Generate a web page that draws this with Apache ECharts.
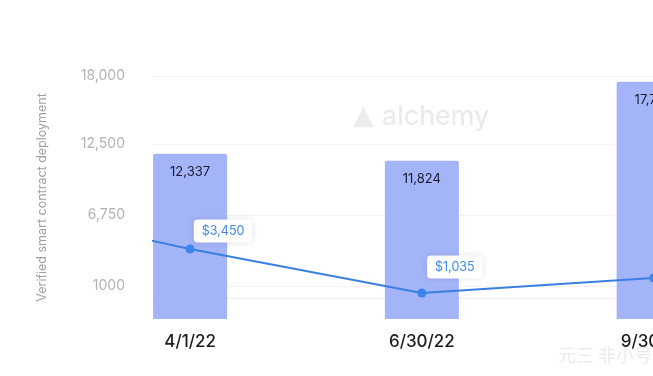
<!DOCTYPE html>
<html>
<head>
<meta charset="utf-8">
<script src="https://cdn.jsdelivr.net/npm/echarts@6/dist/echarts.min.js"></script>
<style>html,body{margin:0;padding:0;background:#fff;}#c{width:653px;height:376px;}</style>
</head>
<body>
<div id="c"></div>
<script>
// categories (the x positions are their indices; -1 is the quarter before, off the left edge)
const categories = ['4/1/22', '6/30/22', '9/30/22'];
const barPositions = [0, 1, 2];
const deployments = [12337, 11824, 17720];
const linePositions = [-1, 0, 1, 2];
const priceValues = [6200, 3450, 1035, 1860];
const yTickValues = [1000, 6750, 12500, 18000];
const yTickLabels = ['1000', '6,750', '12,500', '18,000'];

// label styling (pixel nudges per point label, not data)
const priceLabelNudge = [[33, 0], [33, 6], [33, -2], [33, 0]];

const fmt = v => Number(v).toLocaleString('en-US');

const chart = echarts.init(document.getElementById('c'), null, {renderer: 'canvas'});
chart.setOption({
  animation: false,
  backgroundColor: '#ffffff',
  textStyle: {fontFamily: 'Inter, "Noto Sans", sans-serif'},
  grid: {left: 153, right: -47, top: 76, bottom: 57, containLabel: false, outerBoundsMode: 'none'},
  graphic: [
    {type: 'text', left: 353, top: 103, silent: true,
      style: {text: '▲', fill: '#ececec', font: '27px "DejaVu Sans"'}},
    {type: 'text', left: 382, top: 103, silent: true,
      style: {text: 'alchemy', fill: '#e9e9e9', font: '400 27px Inter, sans-serif'}},
    {type: 'text', left: 558, top: 346, silent: true,
      style: {text: '元三 非小号', fill: '#ebebeb', font: '18px "Noto Sans CJK SC"'}}
  ],
  xAxis: {
    type: 'value', min: -0.16, max: 2.2,
    splitLine: {show: false},
    axisLine: {show: true, lineStyle: {color: '#f0f0f0'}},
    axisTick: {show: false, customValues: barPositions},
    axisLabel: {
      customValues: barPositions,
      formatter: v => categories[Math.round(v)] || '',
      color: '#1c1c1c', fontSize: 17, fontWeight: 500, margin: 14
    }
  },
  yAxis: [
    {
      type: 'value', min: -1671, max: 18000, position: 'left',
      name: 'Verified smart contract deployment',
      nameLocation: 'middle', nameGap: 104, nameRotate: 90,
      nameTextStyle: {color: '#a0a0a0', fontSize: 12.5},
      axisLine: {show: false},
      axisTick: {show: false, customValues: yTickValues},
      axisLabel: {
        customValues: yTickValues,
        formatter: v => yTickLabels[yTickValues.indexOf(v)],
        color: '#b3b3b3', fontSize: 14, margin: 28
      },
      splitLine: {show: true, lineStyle: {color: '#f3f3f3'}}
    },
    {type: 'value', min: 0, max: 18150, show: false, splitLine: {show: false}},
    {type: 'value', min: -390, max: 12950, show: false, splitLine: {show: false}}
  ],
  series: [
    {
      type: 'bar', yAxisIndex: 1, barWidth: 74, z: 2,
      data: barPositions.map((x, i) => [x, deployments[i]]),
      itemStyle: {color: '#a4b4f8', borderRadius: [2, 2, 0, 0]},
      label: {
        show: true, position: 'insideTop', distance: 12,
        formatter: p => fmt(p.value[1]),
        color: '#1b1b2f', fontSize: 13
      }
    },
    {
      type: 'line', yAxisIndex: 2, z: 5,
      data: linePositions.map((x, i) => ({
        value: [x, priceValues[i]],
        label: {show: x >= 0, offset: priceLabelNudge[i]}
      })),
      lineStyle: {color: '#3b7fe3', width: 2},
      itemStyle: {color: '#3b86ee'},
      symbol: 'circle', symbolSize: 9, showAllSymbol: true,
      label: {
        show: true, position: 'top', distance: 8,
        formatter: p => '$' + fmt(p.value[1]),
        color: '#3f88ea', fontSize: 12.5,
        backgroundColor: '#ffffff', borderRadius: 4, padding: [5, 8],
        shadowColor: 'rgba(0,0,0,0.12)', shadowBlur: 6
      }
    }
  ]
});
</script>
</body>
</html>
